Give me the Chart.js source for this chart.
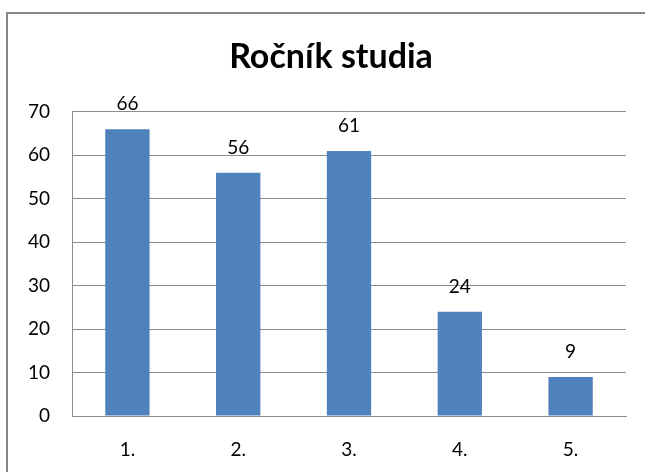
<!DOCTYPE html>
<html>
<head>
<meta charset="utf-8">
<script src="https://cdn.jsdelivr.net/npm/chart.js@4"></script>
<style>
  html, body { margin: 0; padding: 0; background: #fff; overflow: hidden; }
  #wrap { position: relative; width: 645px; height: 472px; overflow: hidden; }
  #frame { position: absolute; left: 6px; top: 12px; width: 700px; height: 500px;
           border-left: 2px solid #868686; border-top: 2px solid #868686; }
  canvas { position: absolute; left: 0; top: 0; }
</style>
</head>
<body>
<div id="wrap">
  <div id="frame"></div>
  <canvas id="c" width="645" height="472"></canvas>
</div>
<script>
// data
const categories = ["1.", "2.", "3.", "4.", "5."];
const values = [66, 56, 61, 24, 9];
const yTicks = [0, 10, 20, 30, 40, 50, 60, 70];

const FONT = "Lato, 'Open Sans', sans-serif";

// hodnoty nad sloupci
const valueLabels = {
  id: "valueLabels",
  afterDatasetsDraw(chart) {
    const ctx = chart.ctx;
    const meta = chart.getDatasetMeta(0);
    ctx.save();
    ctx.font = "19px " + FONT;
    ctx.fillStyle = "#000";
    ctx.textAlign = "center";
    ctx.textBaseline = "alphabetic";
    meta.data.forEach((bar, i) => {
      ctx.fillText(String(values[i]), bar.x, bar.y - 19);
    });
    ctx.restore();
  }
};

// titulek je v originale trochu vpravo od stredu
const titleShift = {
  id: "titleShift",
  afterLayout(chart) {
    if (chart.titleBlock) chart.titleBlock.left += 36;
  }
};

new Chart(document.getElementById("c"), {
  type: "bar",
  data: {
    labels: categories,
    datasets: [{
      data: values,
      backgroundColor: "#4F81BD",
      borderWidth: 0,
      categoryPercentage: 1,
      barPercentage: 0.4
    }]
  },
  plugins: [valueLabels, titleShift],
  options: {
    responsive: false,
    animation: false,
    layout: { padding: { left: 0, right: 19, top: 0, bottom: 0 } },
    plugins: {
      legend: { display: false },
      tooltip: { enabled: false },
      title: {
        display: true,
        text: "Ročník studia",
        color: "#000",
        font: { family: FONT, size: 34, weight: "bold" },
        padding: { top: 37, bottom: 34 }
      }
    },
    scales: {
      x: {
        grid: { display: false, drawTicks: false },
        border: { display: true, color: "#8c8c8c", width: 1 },
        ticks: { color: "#000", padding: 22, font: { family: FONT, size: 19 } },
        afterFit: (s) => { s.height = 56; }
      },
      y: {
        min: 0,
        max: 70,
        afterBuildTicks: (s) => { s.ticks = yTicks.map(v => ({ value: v })); },
        grid: { color: "#8c8c8c", drawTicks: false },
        border: { display: true, color: "#8c8c8c", width: 1 },
        ticks: { color: "#000", padding: 22, font: { family: FONT, size: 19 } },
        afterFit: (s) => { s.width = 72; }
      }
    }
  }
});
</script>
</body>
</html>
